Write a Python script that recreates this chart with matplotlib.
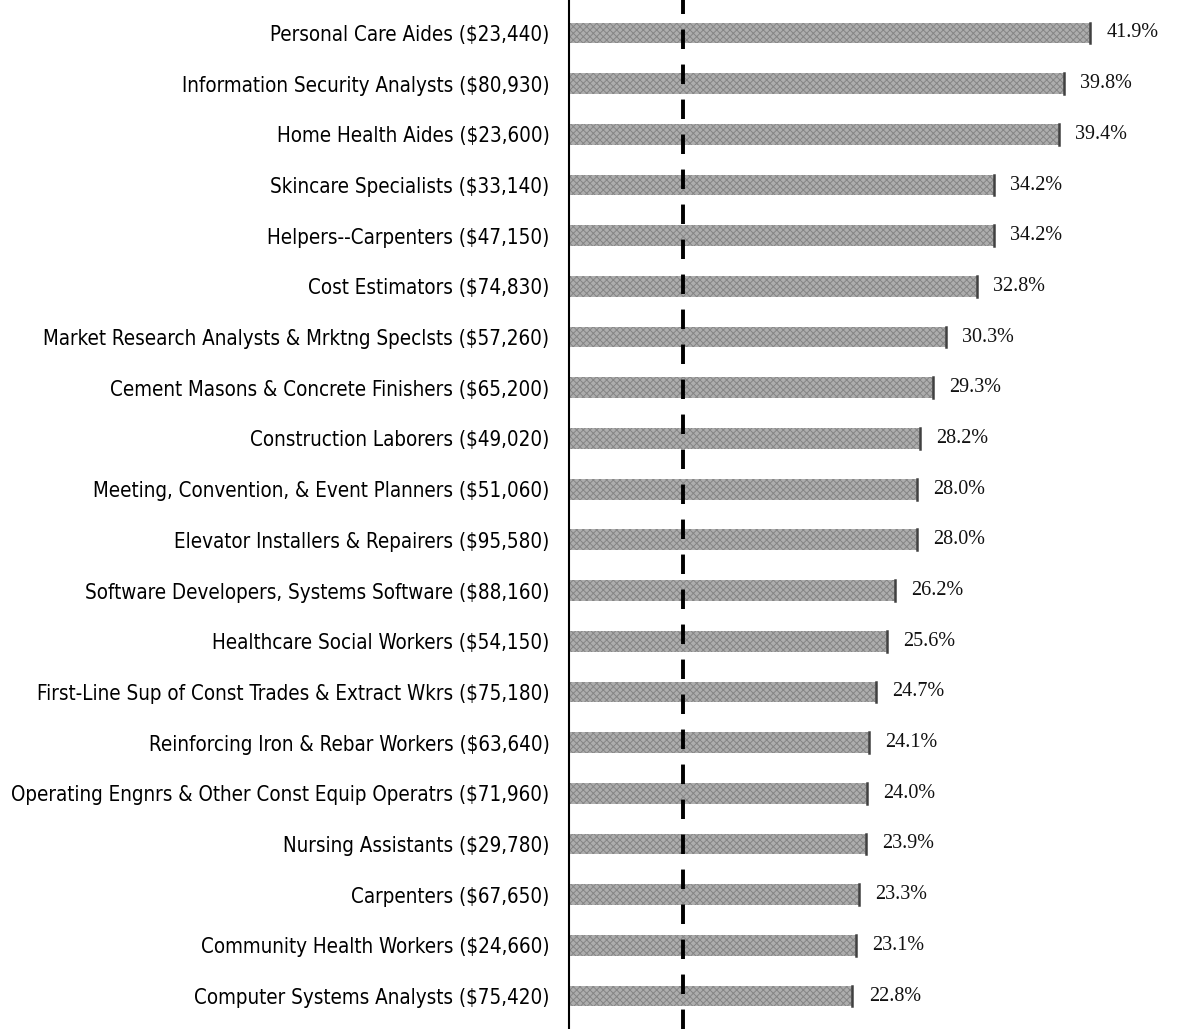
import matplotlib.pyplot as plt
import matplotlib.font_manager as fm

occupations = [
    "Personal Care Aides ($23,440)",
    "Information Security Analysts ($80,930)",
    "Home Health Aides ($23,600)",
    "Skincare Specialists ($33,140)",
    "Helpers--Carpenters ($47,150)",
    "Cost Estimators ($74,830)",
    "Market Research Analysts & Mrktng Speclsts ($57,260)",
    "Cement Masons & Concrete Finishers ($65,200)",
    "Construction Laborers ($49,020)",
    "Meeting, Convention, & Event Planners ($51,060)",
    "Elevator Installers & Repairers ($95,580)",
    "Software Developers, Systems Software ($88,160)",
    "Healthcare Social Workers ($54,150)",
    "First-Line Sup of Const Trades & Extract Wkrs ($75,180)",
    "Reinforcing Iron & Rebar Workers ($63,640)",
    "Operating Engnrs & Other Const Equip Operatrs ($71,960)",
    "Nursing Assistants ($29,780)",
    "Carpenters ($67,650)",
    "Community Health Workers ($24,660)",
    "Computer Systems Analysts ($75,420)",
]
growth = [41.9, 39.8, 39.4, 34.2, 34.2, 32.8, 30.3, 29.3, 28.2, 28.0,
          28.0, 26.2, 25.6, 24.7, 24.1, 24.0, 23.9, 23.3, 23.1, 22.8]
average_growth = 9.2

condensed = [f for f in fm.fontManager.ttflist
             if f.name == "DejaVu Sans" and "Condensed" in f.fname and "Bold" not in f.fname
             and "Oblique" not in f.fname]
if condensed:
    label_prop = fm.FontProperties(fname=condensed[0].fname, size=14.8)
else:
    label_prop = fm.FontProperties(family="DejaVu Sans", size=13)

plt.rcParams['hatch.color'] = '#858585'
plt.rcParams['hatch.linewidth'] = 0.7

fig = plt.figure(figsize=(11.77, 10.29), dpi=100)
ax = fig.add_axes([569 / 1177, 0.0, 1 - 569 / 1177, 1.0])

y = list(range(len(occupations)))
ax.barh(y, growth, height=0.41, color='#adadad', hatch='xxxxx', edgecolor='#858585', linewidth=0)
for yi, g in zip(y, growth):
    ax.plot([g, g], [yi - 0.205, yi + 0.205], color='#404040', lw=1.8)
    ax.text(g + 1.3, yi, f"{g:.1f}%", va='center', ha='left', fontsize=14.5,
            family='Liberation Serif', color='#111111')

ax.axvline(average_growth, color='black', lw=2.8, ls=(0, (5, 4)), zorder=3)

ax.set_xlim(0, 48.9)
ax.set_ylim(len(occupations) - 0.35, -0.65)
ax.set_yticks(y)
ax.set_yticklabels(occupations)
for t in ax.get_yticklabels():
    t.set_fontproperties(label_prop)
ax.tick_params(axis='y', length=0, pad=14)
ax.set_xticks([])
for s in ['top', 'right', 'bottom']:
    ax.spines[s].set_visible(False)
ax.spines['left'].set_linewidth(1.5)

fig.savefig('out.png', dpi=100)
